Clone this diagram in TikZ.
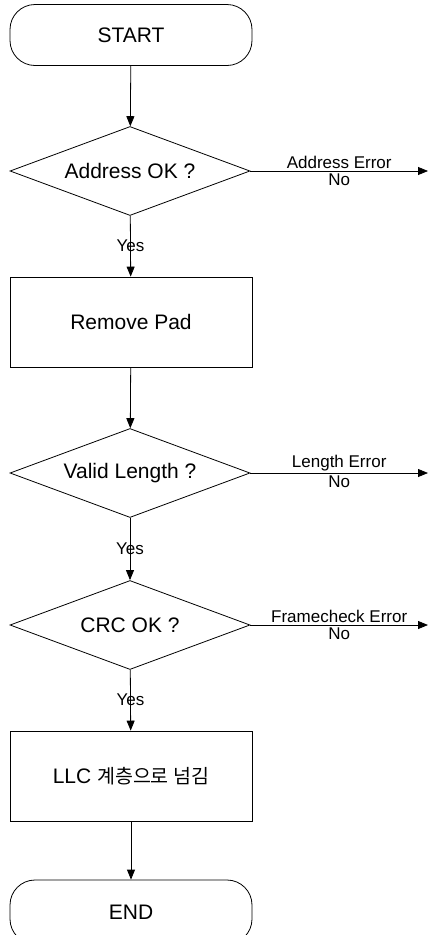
\documentclass[tikz,border=0pt]{standalone}
\usepackage{fontspec}
\setmainfont{Liberation Sans}
\newfontfamily\kofont{Noto Sans CJK KR}
\usetikzlibrary{shapes.geometric,arrows.meta}

\tikzset{
  bigtext/.style={font=\fontsize{21}{25}\selectfont},
  lbl/.style={font=\fontsize{17}{19}\selectfont,inner sep=2pt},
  terminal/.style={draw,bigtext,rounded corners=25pt,minimum width=242pt,minimum height=61pt},
  process/.style={draw,bigtext,minimum width=242pt,minimum height=90pt},
  decision/.style={draw,bigtext,diamond,aspect=2.7,inner sep=0pt,minimum width=240pt,minimum height=89pt},
  flow/.style={-{Triangle[length=10pt,width=8pt]},line width=0.8pt}
}

\begin{document}
\begin{tikzpicture}[x=1pt,y=-1pt,line width=0.8pt]
\useasboundingbox (0,0) rectangle (430,935);
\node[terminal] (start) at (131,35) {START};
\node[decision] (addr) at (130,171) {Address OK ?};
\node[process] (pad) at (131,322) {Remove Pad};
\node[decision] (len) at (130,473) {Valid Length ?};
\node[decision] (crc) at (130,625) {CRC OK ?};
\node[process] (llc) at (131,776) {LLC {\kofont\fontsize{19.5}{22}\selectfont 계층으로 넘김}};
\node[terminal,minimum height=64pt] (end) at (131,912) {END};
\path (428,0) coordinate (ex);

\draw[flow] (start) -- (addr);
\draw[flow] (addr) -- node[lbl] {Yes} (pad);
\draw[flow] (pad) -- (len);
\draw[flow] (len) -- node[lbl] {Yes} (crc);
\draw[flow] (crc) -- node[lbl] {Yes} (llc);
\draw[flow] (llc) -- (end);

\foreach \d/\err in {addr/Address Error,len/Length Error,crc/Framecheck Error}{
\coordinate (\d-out) at (\d.east -| ex);
\draw[flow] (\d.east) -- (\d-out)
  node[midway,above,lbl] {\err} node[midway,below,lbl] {No};
}
\end{tikzpicture}
\end{document}
